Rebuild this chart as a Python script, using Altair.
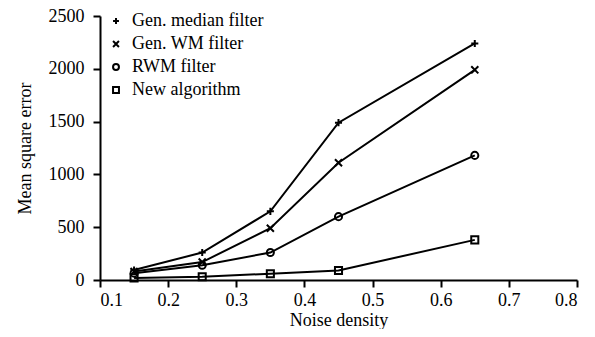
import altair as alt
import pandas as pd

x_vals = [0.15, 0.25, 0.35, 0.45, 0.65]
series_names = ["Gen. median filter", "Gen. WM filter", "RWM filter", "New algorithm"]
gen_median = [95, 260, 650, 1490, 2240]
gen_wm = [80, 170, 490, 1110, 1990]
rwm = [65, 140, 260, 600, 1180]
new_alg = [20, 30, 60, 90, 380]

rows = []
for name, vals in zip(series_names, [gen_median, gen_wm, rwm, new_alg]):
    for x, v in zip(x_vals, vals):
        rows.append({"x": x, "y": v, "series": name})
df = pd.DataFrame(rows)

FONT = "Liberation Serif"
FS = 18
shapes = ["M-1,0L1,0M0,-1L0,1", "M-1,-1L1,1M-1,1L1,-1", "circle", "square"]

xenc = alt.X("x:Q", scale=alt.Scale(domain=[0.1, 0.8], nice=False),
             axis=alt.Axis(title="Noise density", values=[0.1, 0.2, 0.3, 0.4, 0.5, 0.6, 0.7, 0.8],
                           format=".1f", grid=False, labelPadding=4, titlePadding=2))
yenc = alt.Y("y:Q", scale=alt.Scale(domain=[0, 2500], nice=False),
             axis=alt.Axis(title="Mean square error", values=[0, 500, 1000, 1500, 2000, 2500],
                           format="d", grid=False, labelPadding=9, titlePadding=14))

lines = alt.Chart(df).mark_line(color="black", strokeWidth=2).encode(
    x=xenc, y=yenc, detail="series:N")

points = alt.Chart(df).mark_point(color="black", filled=False, strokeWidth=2, size=50, opacity=1).encode(
    x=xenc, y=yenc,
    shape=alt.Shape("series:N", sort=series_names,
                    scale=alt.Scale(domain=series_names, range=shapes),
                    legend=alt.Legend(title=None, orient="none", legendX=7, legendY=-4,
                                      labelFont=FONT, labelFontSize=FS, labelColor="black",
                                      symbolStrokeColor="black", symbolStrokeWidth=2,
                                      symbolSize=35, rowPadding=5, labelOffset=7)))

chart = alt.layer(lines, points).properties(
    width=477, height=264,
    autosize=alt.AutoSizeParams(type="none"),
    padding={"left": 92, "top": 8, "right": 10, "bottom": 49},
).configure_view(stroke=None).configure_axis(
    labelFont=FONT, titleFont=FONT, labelFontSize=FS, titleFontSize=FS,
    labelColor="black", titleColor="black", titleFontWeight="normal",
    domainColor="black", tickColor="black", domainWidth=2, tickWidth=2, tickSize=7,
)

chart.save("out.html", embed_options={"renderer": "svg", "actions": False})
